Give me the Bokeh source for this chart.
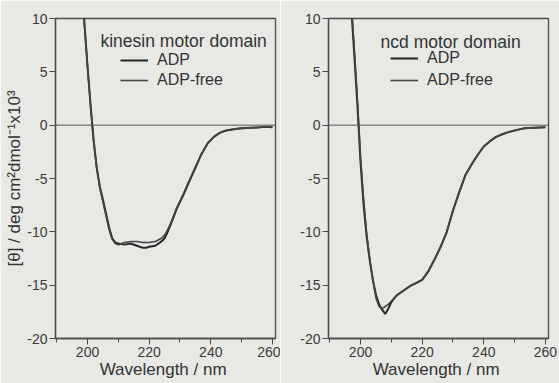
from bokeh.plotting import figure
from bokeh.layouts import row
from bokeh.models import Legend, LegendItem, Label, Span, FixedTicker, Range1d
from bokeh.embed import file_html
from bokeh.resources import INLINE

# ---- data ----
wl_kinesin = [196, 197, 198, 199, 200, 201, 202, 203, 204, 205, 206, 207, 208, 209, 210,
              212, 214, 216, 218, 219, 220, 222, 224, 225, 226, 227, 229, 231, 233, 235,
              237, 239, 241, 243, 245, 248, 250, 253, 256, 258, 260]
kinesin_adp = [24, 19, 14, 9.5, 5.5, 1.8, -1.5, -4.0, -5.8, -7.0, -8.3, -9.6, -10.6, -11.0, -11.1,
               -11.2, -11.1, -11.3, -11.5, -11.5, -11.4, -11.3, -10.9, -10.6, -10.0, -9.3, -7.8, -6.6, -5.3, -4.0,
               -2.7, -1.7, -1.1, -0.7, -0.5, -0.35, -0.3, -0.25, -0.2, -0.15, -0.2]
kinesin_free = [24, 19, 14, 9.4, 5.4, 1.7, -1.6, -4.1, -5.9, -7.2, -8.5, -9.8, -10.7, -11.1, -11.2,
                -11.0, -10.9, -10.9, -11.0, -11.0, -11.0, -10.9, -10.6, -10.3, -9.8, -9.2, -7.7, -6.5, -5.2, -3.9,
                -2.7, -1.7, -1.1, -0.7, -0.5, -0.35, -0.3, -0.25, -0.2, -0.15, -0.2]

wl_ncd = [196, 197, 198, 199, 200, 201, 202, 203, 204, 205, 206, 207, 208, 209, 210,
          211, 212, 214, 216, 218, 220, 222, 224, 226, 228, 230, 232, 234, 236, 238,
          240, 242, 244, 246, 248, 250, 253, 256, 260]
ncd_adp = [22, 11, 6.5, 1.8, -3.5, -7.5, -10.5, -12.7, -14.5, -15.9, -16.8, -17.3, -17.7, -17.2, -16.6,
           -16.2, -15.9, -15.5, -15.1, -14.8, -14.5, -13.7, -12.6, -11.4, -10.0, -8.0, -6.3, -4.7, -3.7, -2.8,
           -2.0, -1.5, -1.1, -0.85, -0.65, -0.5, -0.3, -0.25, -0.2]
ncd_free = [22, 11.5, 7, 2.3, -3.0, -7.0, -10.2, -12.6, -14.5, -16.2, -17.0, -17.2, -17.0, -16.8, -16.5,
            -16.2, -15.9, -15.5, -15.1, -14.8, -14.5, -13.7, -12.6, -11.4, -10.0, -8.0, -6.3, -4.7, -3.7, -2.8,
            -2.0, -1.5, -1.1, -0.85, -0.65, -0.5, -0.3, -0.25, -0.2]

x_ticks = [200, 220, 240, 260]
x_minor = [190, 210, 230, 250]
y_ticks = [-20, -15, -10, -5, 0, 5, 10]
series_labels = ["ADP", "ADP-free"]
titles = ["kinesin motor domain", "ncd motor domain"]
x_label = "Wavelength  / nm"
y_label = "[θ] / deg cm²dmol⁻¹x10³"

BG = "#e8e8e5"
AX = "#4a4a4a"
FONT = "Liberation Sans"


def make_panel(width, height, bl, br, bt, bb, wl, s1, s2, title, title_x, title_y,
               leg_locs, show_ylabel):
    p = figure(width=width, height=height, output_backend="svg", toolbar_location=None,
               x_range=Range1d(189.6, 261.0), y_range=Range1d(-20, 10),
               min_border_left=bl, min_border_right=br, min_border_top=bt, min_border_bottom=bb)
    p.background_fill_color = BG
    p.border_fill_color = BG
    p.outline_line_color = AX
    p.outline_line_width = 1.3
    p.grid.visible = False

    p.xaxis.ticker = FixedTicker(ticks=x_ticks, minor_ticks=x_minor)
    p.yaxis.ticker = FixedTicker(ticks=y_ticks, minor_ticks=[])
    p.yaxis.major_label_overrides = {v: str(v) for v in y_ticks}
    p.xaxis.major_label_overrides = {v: str(v) for v in x_ticks}
    for ax in (p.xaxis[0], p.yaxis[0]):
        ax.axis_line_color = AX
        ax.axis_line_width = 1.3
        ax.major_tick_line_color = AX
        ax.minor_tick_line_color = AX
        ax.major_tick_in = 0
        ax.major_tick_out = 6
        ax.minor_tick_in = 0
        ax.minor_tick_out = 4
        ax.major_label_text_font = FONT
        ax.major_label_text_font_size = "14px"
        ax.major_label_text_color = "#3a3a3a"
        ax.major_label_standoff = 2
        ax.axis_label_text_font = FONT
        ax.axis_label_text_font_size = "17px"
        ax.axis_label_text_font_style = "normal"
        ax.axis_label_text_color = "#333333"
        ax.axis_label_standoff = 0
    p.xaxis.axis_label = x_label
    if show_ylabel:
        p.yaxis.axis_label = y_label

    p.add_layout(Span(location=0, dimension="width", line_color="#555555", line_width=1))

    r1 = p.line(wl, s1, line_color="#262626", line_width=2.0)
    r2 = p.line(wl, s2, line_color="#444444", line_width=1.6)

    for lab, rend, loc in zip(series_labels, (r1, r2), leg_locs):
        leg = Legend(items=[LegendItem(label=lab, renderers=[rend])],
                     location=loc, orientation="vertical",
                     border_line_color=None, background_fill_alpha=0,
                     padding=0, margin=0, spacing=0,
                     glyph_width=28, glyph_height=16, label_height=16, label_standoff=9,
                     label_text_font=FONT, label_text_font_size="16px",
                     label_text_color="#333333")
        p.add_layout(leg)

    p.add_layout(Label(x=title_x, y=title_y, text=title, text_font=FONT,
                       text_font_size="17.5px", text_color="#333333",
                       text_baseline="alphabetic", text_align="left"))
    return p


left = make_panel(280, 383, 55, 5, 16, 45, wl_kinesin, kinesin_adp, kinesin_free,
                  titles[0], 204.2, 7.85, [(65, 269), (65, 249)], True)
right = make_panel(279, 383, 48, 11, 18, 44, wl_ncd, ncd_adp, ncd_free,
                   titles[1], 206.5, 7.8, [(62, 271), (62, 249)], False)

layout = row(left, right)
open("out.html", "w").write(file_html(layout, INLINE))
